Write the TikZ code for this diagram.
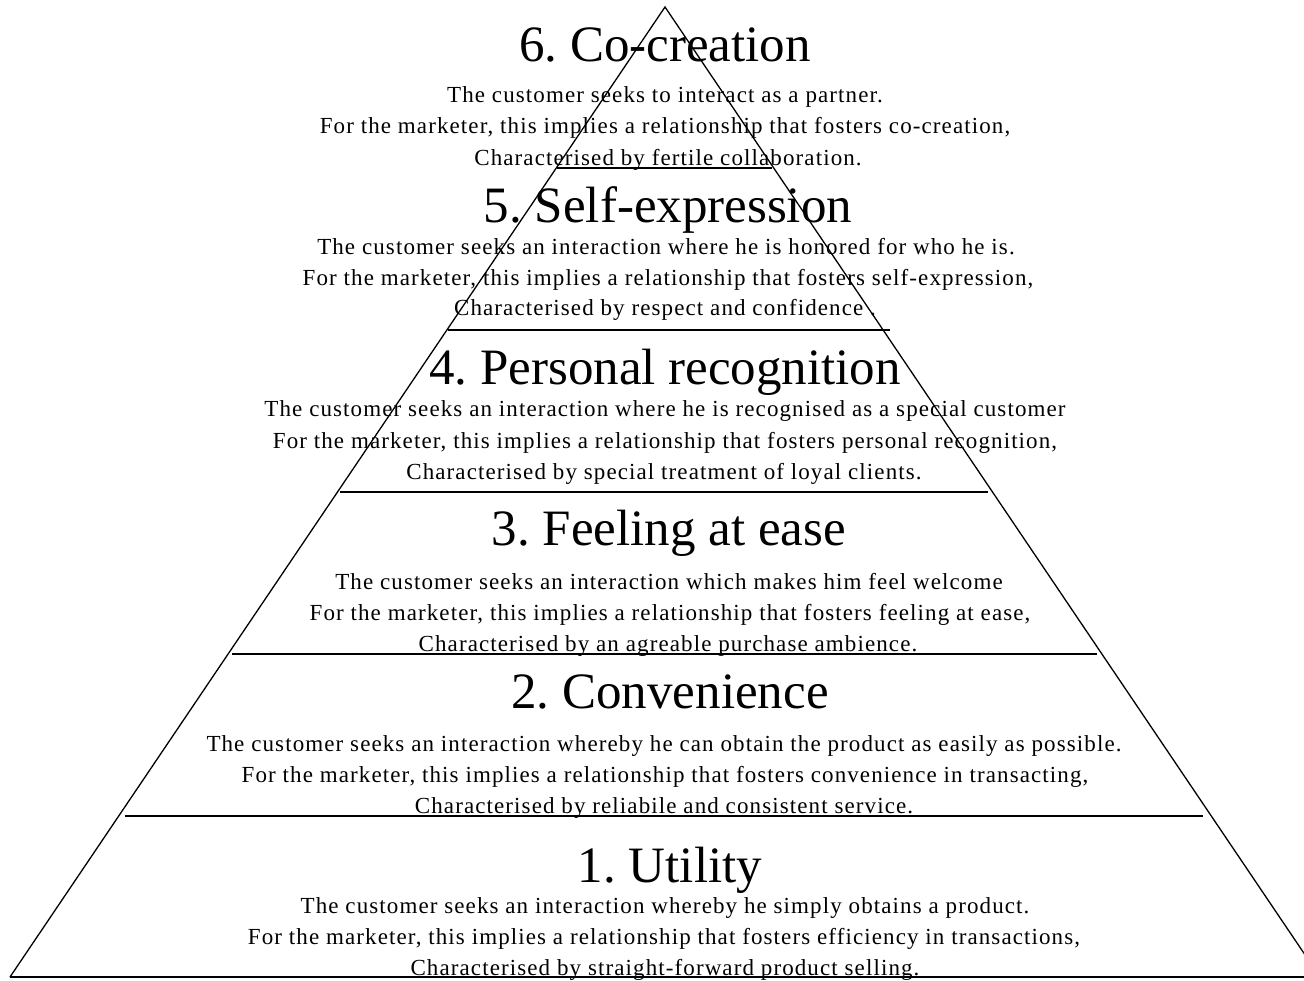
\documentclass[tikz,border=0pt]{standalone}
\usepackage{fontspec}
\setmainfont{Liberation Serif}
\newfontfamily\bodyfont[LetterSpace=4.8]{Liberation Serif}
\frenchspacing
\begin{document}
\begin{tikzpicture}[x=1pt,y=-1pt,
  title/.style={anchor=base,inner sep=0pt,font=\fontsize{51}{60}\selectfont},
  body/.style={anchor=base,inner sep=0pt,font=\bodyfont\fontsize{23}{28}\selectfont},
  side/.style={line width=1.3pt},
  tier/.style={line width=1.6pt}]
\useasboundingbox (0,0) rectangle (1304,981);
\fill[white] (0,0) rectangle (1304,981);
% triangle
\coordinate (apex) at (665,7);
\coordinate (bl) at (10,977);
\coordinate (br) at (1320,977);
\draw[side] (bl) -- (apex) -- (br);
\draw[tier] (bl) -- (br);
% tier lines
\draw[tier] (557,168) -- (772,168);
\draw[tier] (448,330) -- (890,330);
\draw[tier] (340,492) -- (988,492);
\draw[tier] (232,654) -- (1097,654);
\draw[tier] (125,816) -- (1203,816);
% level 6
\node[title] (t6) at (665,62) {6. Co-creation};
\node[body] (t6a) at (665,103) {The customer seeks to interact as a partner.};
\node[body] (t6b) at (665,134) {For the marketer, this implies a relationship that fosters co-creation,};
\node[body] (t6c) at (668,166) {Characterised by fertile collaboration.};
% level 5
\node[title] (t5) at (668,223) {5. Self-expression};
\node[body] (t5a) at (666,255) {The customer seeks an interaction where he is honored for who he is.};
\node[body] (t5b) at (668,286) {For the marketer, this implies a relationship that fosters self-expression,};
\node[body] (t5c) at (665,316) {Characterised by respect and confidence .};
% level 4
\node[title] (t4) at (665,385) {4. Personal recognition};
\node[body] (t4a) at (665,417) {The customer seeks an interaction where he is recognised as a special customer};
\node[body] (t4b) at (665,448) {For the marketer, this implies a relationship that fosters personal recognition,};
\node[body] (t4c) at (664,479) {Characterised by special treatment of loyal clients.};
% level 3
\node[title] (t3) at (669,545) {3. Feeling at ease};
\node[body] (t3a) at (669,589) {The customer seeks an interaction which makes him feel welcome};
\node[body] (t3b) at (670,620) {For the marketer, this implies a relationship that fosters feeling at ease,};
\node[body] (t3c) at (668,651) {Characterised by an agreable purchase ambience.};
% level 2
\node[title] (t2) at (670,708) {2. Convenience};
\node[body] (t2a) at (664,751) {The customer seeks an interaction whereby he can obtain the product as easily as possible.};
\node[body] (t2b) at (665,782) {For the marketer, this implies a relationship that fosters convenience in transacting,};
\node[body] (t2c) at (664,813) {Characterised by reliabile and consistent service.};
% level 1
\node[title] (t1) at (670,882) {1. Utility};
\node[body] (t1a) at (665,913) {The customer seeks an interaction whereby he simply obtains a product.};
\node[body] (t1b) at (664,944) {For the marketer, this implies a relationship that fosters efficiency in transactions,};
\node[body] (t1c) at (665,975) {Characterised by straight-forward product selling.};
\end{tikzpicture}
\end{document}
